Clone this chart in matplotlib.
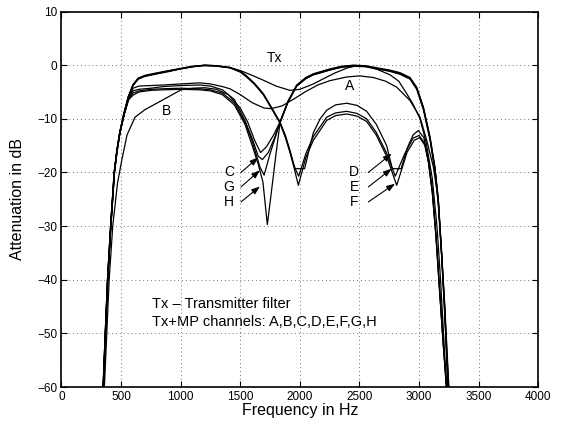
import matplotlib
matplotlib.use("Agg")
import matplotlib.pyplot as plt

plt.rcParams['font.family'] = ['Liberation Sans', 'DejaVu Sans']

# ---------------- data (frequency in Hz, attenuation in dB) ----------------
tx_f = [350, 368, 387, 413, 443, 465, 490, 525, 560, 600, 644, 700, 785, 900, 1000, 1100, 1200,
        1300, 1413, 1500, 1600, 1693, 1800, 1917, 2000, 2113, 2200, 2300, 2400, 2480, 2550, 2650,
        2756, 2830, 2896, 2950, 3008, 3060, 3110, 3150, 3180, 3205, 3230]
tx_db = [-60, -50, -40, -30, -20, -16, -12.5, -9, -6, -3.8, -2.5, -2.0, -1.6, -1.1, -0.7, -0.3, 0,
         -0.1, -0.5, -1.0, -1.9, -2.8, -3.9, -4.7, -4.5, -3.5, -2.5, -1.4, -0.5, -0.1, -0.2, -0.8,
         -1.8, -3.0, -5.3, -7.3, -10, -14.5, -21, -30, -40, -50, -60]

a_f = [352, 370, 389, 415, 445, 467, 492, 527, 562, 600, 650, 750, 850, 1000, 1160, 1250, 1350,
       1413, 1500, 1600, 1700, 1760, 1850, 1950, 2050, 2150, 2250, 2393, 2500, 2616, 2720, 2812,
       2924, 3008, 3064, 3120, 3161, 3190, 3215, 3240]
a_db = [-60, -50, -40, -30, -20, -16, -12.5, -9.2, -6.5, -4.3, -3.9, -3.8, -3.7, -3.5, -3.3, -3.5, -4.0,
        -4.4, -5.5, -7.0, -8.0, -8.1, -7.6, -6.3, -4.9, -3.7, -2.9, -2.2, -2.0, -2.3, -3.0, -4.1,
        -6.6, -9.7, -14, -19, -25, -35, -45, -60]

b_f = [360, 380, 400, 430, 470, 505, 550, 617, 700, 840, 1003, 1100, 1200, 1300, 1400, 1500,
       1560, 1620, 1670, 1720, 1780, 1833, 1900, 1973, 2050, 2113, 2252, 2350, 2450, 2550, 2650,
       2750, 2840, 2924, 2980, 3036, 3092, 3133, 3161, 3188, 3212, 3245]
b_db = [-60, -50, -40, -30, -22, -17.8, -13, -9.7, -8.3, -6.6, -4.6, -4.3, -4.2, -4.5, -5.5, -8.0,
        -10.5, -14, -16.3, -15.2, -13, -10.6, -6.9, -3.9, -2.5, -1.8, -0.9, -0.4, -0.2, -0.3, -0.7,
        -1.1, -1.6, -2.5, -4.3, -8.0, -13.6, -19.2, -25, -35, -45, -60]

c_f = [351, 369, 388, 414, 444, 466, 491, 526, 561, 600, 650, 750, 850, 1000, 1160, 1250, 1350,
       1450, 1539, 1600, 1651, 1685, 1735, 1790, 1833, 1900, 1973, 2050, 2113, 2252, 2350, 2450,
       2550, 2650, 2750, 2840, 2924, 2980, 3036, 3092, 3133, 3161, 3188, 3212, 3245]
c_db = [-60, -50, -40, -30, -20, -16, -12.5, -9.1, -6.3, -4.8, -4.5, -4.3, -4.0, -3.8, -3.7, -3.9, -4.6,
        -6.4, -10.3, -13.7, -17.0, -17.6, -16.3, -13.4, -10.6, -6.7, -3.7, -2.3, -1.6, -0.7, -0.2, 0,
        -0.1, -0.5, -0.9, -1.4, -2.3, -4.1, -7.8, -13.4, -19, -25, -35, -45, -60]

g_f = [351, 369, 388, 414, 444, 466, 491, 526, 561, 600, 650, 750, 850, 1000, 1160, 1250, 1350,
       1450, 1539, 1600, 1665, 1700, 1750, 1800, 1833, 1900, 1973, 2050, 2113, 2252, 2350, 2450,
       2550, 2650, 2750, 2840, 2924, 2980, 3036, 3092, 3133, 3161, 3188, 3214, 3248]
g_db = [-60, -50, -40, -30, -20, -16, -12.5, -9.1, -6.4, -5.2, -4.8, -4.5, -4.4, -4.3, -4.4, -4.6, -5.2,
        -7.0, -10.6, -14.2, -19.0, -20.5, -16.5, -13.0, -10.7, -6.8, -3.8, -2.4, -1.7, -0.8, -0.3, -0.05,
        -0.15, -0.6, -1.0, -1.5, -2.4, -4.3, -8.0, -13.7, -19.4, -25.5, -35, -45, -60]

h_f = [351, 369, 388, 414, 444, 466, 491, 526, 561, 600, 650, 750, 850, 1000, 1160, 1250, 1350,
       1450, 1539, 1600, 1651, 1690, 1727, 1760, 1800, 1833, 1900, 1973, 2050, 2113, 2252, 2350, 2450,
       2550, 2650, 2750, 2840, 2924, 2980, 3036, 3092, 3133, 3161, 3188, 3216, 3250]
h_db = [-60, -50, -40, -30, -20, -16, -12.5, -9.1, -6.5, -5.6, -5.0, -4.7, -4.6, -4.5, -4.6, -4.8, -5.5,
        -7.4, -11.0, -15.0, -18.5, -21.8, -29.7, -23.8, -16.5, -10.8, -6.9, -3.9, -2.5, -1.8, -0.9, -0.35, -0.1,
        -0.2, -0.7, -1.1, -1.7, -2.6, -4.5, -8.3, -14.0, -19.8, -26, -35, -45, -60]

d_f = [349, 367, 386, 412, 442, 464, 489, 524, 559, 600, 644, 700, 785, 900, 1000, 1100, 1200,
       1300, 1413, 1500, 1553, 1620, 1693, 1760, 1833, 1880, 1917, 1950, 1960, 2040, 2080, 2113,
       2170, 2225, 2300, 2393, 2480, 2560, 2640, 2728, 2775, 2850, 2900, 2950, 2993, 3040, 3078,
       3110, 3140, 3170, 3200, 3228]
d_db = [-60, -50, -40, -30, -20, -16, -12.5, -9, -6, -3.6, -2.4, -1.9, -1.5, -1.0, -0.6, -0.2, 0,
        -0.1, -0.4, -1.1, -2.0, -3.4, -5.3, -7.8, -10.6, -13.2, -15.9, -18.6, -19.3, -19.3, -15.5, -12.6,
        -10.0, -8.4, -7.4, -7.1, -7.5, -8.6, -11.0, -15.0, -19.3, -19.3, -15.5, -13.0, -12.2, -13.5, -17.8,
        -23, -31, -41, -51, -60]

e_f = [349, 367, 386, 412, 442, 464, 489, 524, 559, 600, 644, 700, 785, 900, 1000, 1100, 1200,
       1300, 1413, 1500, 1553, 1620, 1693, 1760, 1833, 1880, 1917, 1950, 1990, 2050, 2113, 2225,
       2300, 2393, 2480, 2560, 2640, 2728, 2800, 2880, 2950, 3000, 3045, 3078, 3110, 3140, 3170,
       3200, 3230]
e_db = [-60, -50, -40, -30, -20, -16, -12.5, -9, -6, -3.7, -2.5, -2.0, -1.6, -1.1, -0.65, -0.25, -0.05,
        -0.15, -0.45, -1.2, -2.1, -3.5, -5.4, -7.9, -10.7, -13.4, -16.1, -18.8, -20.7, -16.5, -13.3, -9.7,
        -8.9, -8.6, -9.0, -10.0, -12.5, -16.4, -20.7, -16.5, -13.6, -13.1, -14.5, -18.0, -23.5, -31.5, -41.5,
        -51, -60]

f_f = [349, 367, 386, 412, 442, 464, 489, 524, 559, 600, 644, 700, 785, 900, 1000, 1100, 1200,
       1300, 1413, 1500, 1553, 1620, 1693, 1760, 1833, 1880, 1917, 1950, 1987, 2050, 2113, 2225,
       2300, 2393, 2480, 2560, 2640, 2728, 2812, 2900, 2960, 3005, 3050, 3080, 3112, 3142, 3172,
       3202, 3232]
f_db = [-60, -50, -40, -30, -20, -16, -12.5, -9, -6, -3.8, -2.6, -2.1, -1.7, -1.2, -0.7, -0.3, -0.1,
        -0.2, -0.5, -1.3, -2.2, -3.6, -5.5, -8.0, -10.8, -13.6, -16.3, -19.0, -22.4, -17.2, -14.0, -10.3,
        -9.4, -9.1, -9.5, -10.5, -13.0, -17.0, -22.4, -16.2, -14.0, -13.5, -15.0, -18.3, -24, -32, -42,
        -52, -60]

curves = [(tx_f, tx_db), (a_f, a_db), (b_f, b_db), (c_f, c_db), (g_f, g_db), (h_f, h_db),
          (d_f, d_db), (e_f, e_db), (f_f, f_db)]

x_ticks = [0, 500, 1000, 1500, 2000, 2500, 3000, 3500, 4000]
y_ticks = [-60, -50, -40, -30, -20, -10, 0, 10]

# ---------------- figure ----------------
fig = plt.figure(figsize=(5.62, 4.25), dpi=100)
ax = fig.add_axes([0.1094, 0.0894, 0.8484, 0.8835])

for fx, dbv in curves:
    ax.plot(fx, dbv, color='black', linewidth=0.9)

ax.set_xlim(0, 4000)
ax.set_ylim(-60, 10)
ax.set_xticks(x_ticks)
ax.set_yticks(y_ticks)
ax.grid(True, linestyle=(0, (1, 3)), color='0.45', linewidth=0.7)
ax.tick_params(direction='in', top=True, right=True, length=4, width=0.8, labelsize=8.5, pad=3)
for s in ax.spines.values():
    s.set_linewidth(1.2)

ax.set_xlabel('Frequency in Hz', fontsize=11.5, labelpad=0)
ax.set_ylabel('Attenuation in dB', fontsize=11.5, labelpad=9)

tfs = 10
ax.text(1790, 1.3, 'Tx', ha='center', va='center', fontsize=tfs)
ax.text(2415, -3.8, 'A', ha='center', va='center', fontsize=tfs)
ax.text(882, -8.6, 'B', ha='center', va='center', fontsize=tfs)

left_labels = ['C', 'G', 'H']
right_labels = ['D', 'E', 'F']
label_y = [-20, -22.7, -25.5]
left_heads = [(1651, -17.2), (1665, -19.6), (1665, -22.6)]
right_heads = [(2770, -16.5), (2770, -19.3), (2798, -22.1)]
arrow = dict(arrowstyle='-|>,head_length=0.5,head_width=0.18', color='black', lw=0.8,
             shrinkA=0, shrinkB=0)
for lab, yy, hd in zip(left_labels, label_y, left_heads):
    ax.text(1405, yy, lab, ha='center', va='center', fontsize=tfs)
    ax.annotate('', xy=hd, xytext=(1506, yy), arrowprops=arrow)
for lab, yy, hd in zip(right_labels, label_y, right_heads):
    ax.text(2454, yy, lab, ha='center', va='center', fontsize=tfs)
    ax.annotate('', xy=hd, xytext=(2574, yy), arrowprops=arrow)

ax.text(757, -44.6, 'Tx \u2013 Transmitter filter', ha='left', va='center', fontsize=10.5)
ax.text(757, -47.8, 'Tx+MP channels: A,B,C,D,E,F,G,H', ha='left', va='center', fontsize=10.5)

fig.savefig('out.png', dpi=100)
